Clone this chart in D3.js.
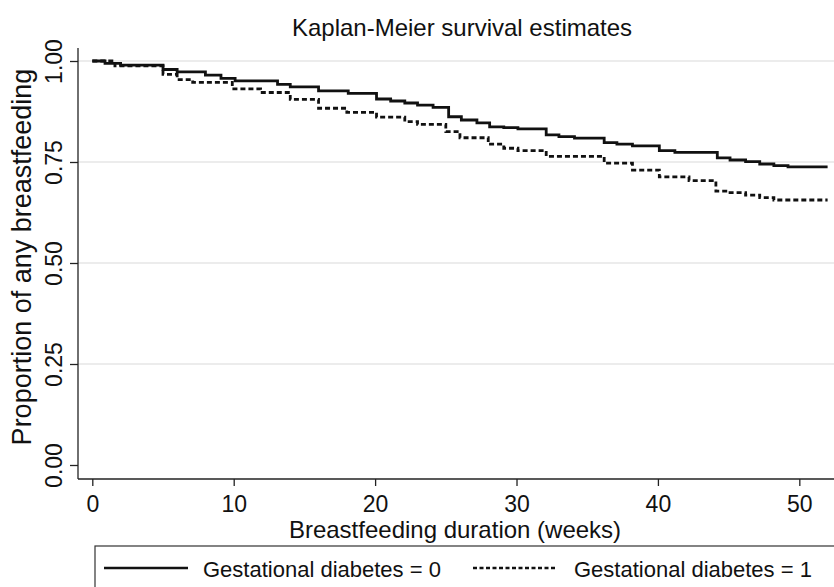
<!DOCTYPE html>
<html lang="en">
<head>
    <meta charset="utf-8">
    <script src="https://cdn.jsdelivr.net/npm/d3@7/dist/d3.min.js"></script>
    <style>
        body { margin: 0; background: #fff; }
        text { font-family: "Liberation Sans", Arial, Helvetica, sans-serif; fill: #111; }
    </style>
</head>
<body>
    <svg width="834" height="587"></svg>
    <script>
        // KM step points: time (weeks) and survival proportion
        var weeks0 = [0, 0.9, 2.0, 5.0, 6.0, 8.0, 9.1, 10.1, 13.1, 14.0, 16.0, 18.1, 20.1, 21.1, 22.1, 23.0,
                      24.1, 25.2, 26.1, 27.2, 28.1, 29.1, 30.1, 32.1, 33.0, 34.1, 36.2, 37.1, 38.2, 40.1,
                      41.2, 44.2, 45.1, 46.2, 47.2, 48.2, 49.2, 52];
        var surv0 = [1, 0.994, 0.990, 0.979, 0.973, 0.965, 0.957, 0.951, 0.942, 0.936, 0.926, 0.920, 0.906, 0.901,
                     0.896, 0.891, 0.885, 0.862, 0.854, 0.847, 0.837, 0.835, 0.832, 0.817, 0.813, 0.809, 0.798,
                     0.794, 0.790, 0.778, 0.774, 0.760, 0.755, 0.751, 0.745, 0.741, 0.738, 0.738];

        var weeks1 = [0, 1.6, 5.0, 6.0, 7.1, 9.9, 11.9, 14.0, 16.0, 18.0, 20.1, 22.1, 23.0, 25.0, 26.0, 28.0,
                      29.1, 30.1, 32.1, 36.2, 38.2, 40.1, 42.2, 44.1, 45.1, 46.2, 47.2, 48.2, 52];
        var surv1 = [1, 0.988, 0.967, 0.954, 0.947, 0.931, 0.922, 0.905, 0.883, 0.873, 0.861, 0.850, 0.843,
                     0.825, 0.810, 0.794, 0.784, 0.778, 0.764, 0.747, 0.730, 0.713, 0.704, 0.678, 0.674,
                     0.668, 0.662, 0.656, 0.656];

        var xTicks = [0, 10, 20, 30, 40, 50];
        var yTicks = [0, 0.25, 0.5, 0.75, 1];
        var seriesNames = ["Gestational diabetes = 0", "Gestational diabetes = 1"];

        var svg = d3.select("svg");

        var x = d3.scaleLinear().domain([0, 52]).range([92.3, 827.6]);
        var y = d3.scaleLinear().domain([0, 1]).range([465, 61]);

        var axisX = 78, axisY = 479;

        // gridlines
        svg.append("g")
            .selectAll("line")
            .data(yTicks.filter(function(d) { return d > 0; }))
            .enter().append("line")
            .attr("x1", axisX).attr("x2", 834)
            .attr("y1", function(d) { return y(d); })
            .attr("y2", function(d) { return y(d); })
            .attr("stroke", "#e6e6e6")
            .attr("stroke-width", 1.5);

        // y axis
        var yAxis = svg.append("g")
            .attr("transform", "translate(" + axisX + ",0)")
            .call(d3.axisLeft(y).tickValues(yTicks).tickFormat(d3.format(".2f")).tickSize(8).tickPadding(0));
        yAxis.select(".domain").remove();
        yAxis.selectAll(".tick line").attr("stroke", "#222").attr("stroke-width", 1.3);
        yAxis.selectAll(".tick text")
            .attr("transform", "rotate(-90)")
            .attr("x", 0).attr("y", -16)
            .attr("dy", 0)
            .attr("text-anchor", "middle")
            .style("font-size", "23px")
            .style("font-family", "'Liberation Sans', Arial, sans-serif");
        svg.append("line")
            .attr("x1", axisX).attr("x2", axisX)
            .attr("y1", 48).attr("y2", axisY)
            .attr("stroke", "#222").attr("stroke-width", 1.3);

        // x axis
        var xAxis = svg.append("g")
            .attr("transform", "translate(0," + axisY + ")")
            .call(d3.axisBottom(x).tickValues(xTicks).tickSize(7).tickPadding(0));
        xAxis.select(".domain").remove();
        xAxis.selectAll(".tick line").attr("stroke", "#222").attr("stroke-width", 1.3);
        xAxis.selectAll(".tick text")
            .attr("y", 33).attr("dy", 0)
            .style("font-size", "23px")
            .style("font-family", "'Liberation Sans', Arial, sans-serif");
        svg.append("line")
            .attr("x1", axisX).attr("x2", 834)
            .attr("y1", axisY).attr("y2", axisY)
            .attr("stroke", "#222").attr("stroke-width", 1.3);

        // curves
        var line = d3.line()
            .x(function(d) { return x(d[0]); })
            .y(function(d) { return y(d[1]); })
            .curve(d3.curveStepAfter);

        svg.append("path")
            .datum(d3.zip(weeks0, surv0))
            .attr("d", line)
            .attr("fill", "none")
            .attr("stroke", "#111")
            .attr("stroke-width", 2.8);

        svg.append("path")
            .datum(d3.zip(weeks1, surv1))
            .attr("d", line)
            .attr("fill", "none")
            .attr("stroke", "#111")
            .attr("stroke-width", 2.8)
            .attr("stroke-dasharray", "5,3");

        // titles
        svg.append("text")
            .attr("x", 462).attr("y", 36)
            .attr("text-anchor", "middle")
            .style("font-size", "24px")
            .text("Kaplan-Meier survival estimates");

        svg.append("text")
            .attr("transform", "translate(31,257) rotate(-90)")
            .attr("text-anchor", "middle")
            .style("font-size", "27px")
            .text("Proportion of any breastfeeding");

        svg.append("text")
            .attr("x", 455).attr("y", 538)
            .attr("text-anchor", "middle")
            .style("font-size", "24px")
            .text("Breastfeeding duration (weeks)");

        // legend
        var legend = svg.append("g");
        legend.append("rect")
            .attr("x", 95).attr("y", 546)
            .attr("width", 760).attr("height", 70)
            .attr("fill", "#fff")
            .attr("stroke", "#333")
            .attr("stroke-width", 1.2);

        var legendPos = [{lx: 104, tx: 203}, {lx: 473, tx: 574}];
        seriesNames.forEach(function(name, i) {
            var p = legendPos[i];
            legend.append("line")
                .attr("x1", p.lx).attr("x2", p.lx + 84)
                .attr("y1", 568).attr("y2", 568)
                .attr("stroke", "#111")
                .attr("stroke-width", 2.6)
                .attr("stroke-dasharray", i === 1 ? "4,2.5" : null);
            legend.append("text")
                .attr("x", p.tx).attr("y", 577)
                .style("font-size", "22px")
                .text(name);
        });
    </script>
</body>
</html>
